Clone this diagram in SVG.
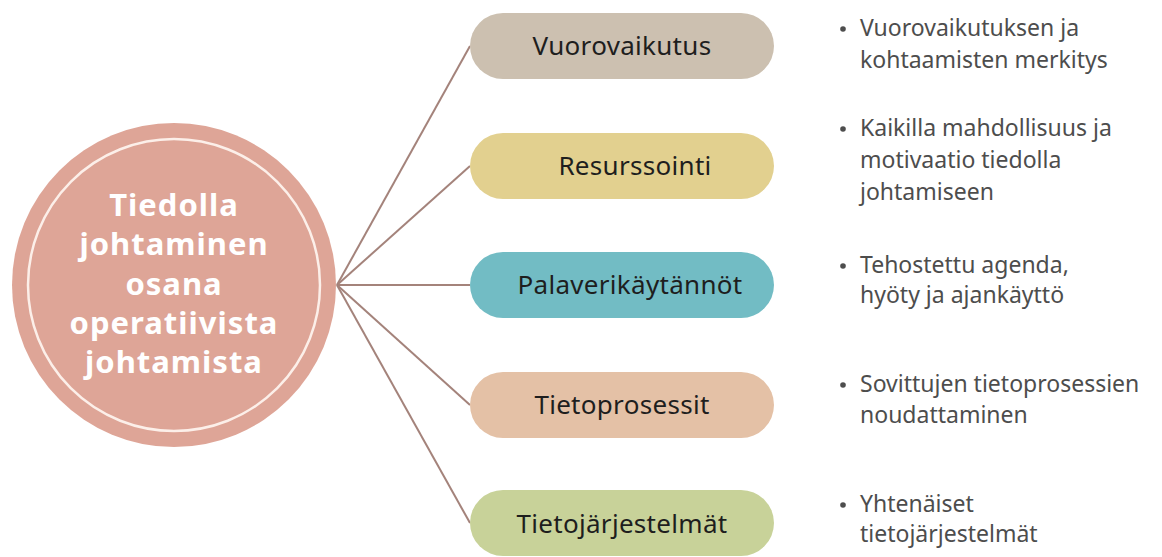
<svg xmlns="http://www.w3.org/2000/svg" width="1162" height="557" viewBox="0 0 1162 557">
  <style>
    .hub-text { font-family: "Noto Sans", "Open Sans", sans-serif; font-weight: 700; font-size: 31px; fill: #ffffff; text-anchor: middle; letter-spacing: 1px; }
    .pill-text { font-family: "Noto Sans", "Open Sans", sans-serif; font-size: 26px; fill: #1e1e1e; text-anchor: middle; letter-spacing: 0.3px; }
    .note { font-family: "Noto Sans", "Open Sans", sans-serif; font-size: 23px; fill: #4d4d4d; }
    .dot { fill: #4d4d4d; }
    .link { stroke: #a4837b; stroke-width: 2; fill: none; }
  </style>

  <rect width="1162" height="557" fill="#ffffff"/>

  <!-- spokes from the hub to each topic -->
  <g id="connectors">
    <line class="link" x1="337" y1="285" x2="470" y2="46"/>
    <line class="link" x1="337" y1="285" x2="470" y2="166"/>
    <line class="link" x1="337" y1="285" x2="470" y2="285"/>
    <line class="link" x1="337" y1="285" x2="470" y2="405"/>
    <line class="link" x1="337" y1="285" x2="470" y2="523"/>
  </g>

  <!-- central hub -->
  <g id="hub">
    <circle cx="174" cy="285" r="162" fill="#dea597"/>
    <circle cx="174" cy="285" r="146" fill="none" stroke="#fcefe9" stroke-width="2.5"/>
    <text class="hub-text" x="174" y="216">Tiedolla</text>
    <text class="hub-text" x="174" y="255">johtaminen</text>
    <text class="hub-text" x="174" y="295">osana</text>
    <text class="hub-text" x="174" y="334">operatiivista</text>
    <text class="hub-text" x="174" y="373">johtamista</text>
  </g>

  <!-- topic pills -->
  <g id="vuorovaikutus">
    <rect x="470" y="13" width="304" height="66" rx="33" fill="#ccc0b0"/>
    <text class="pill-text" x="622" y="55">Vuorovaikutus</text>
  </g>
  <g id="resurssointi">
    <rect x="470" y="133" width="304" height="66" rx="33" fill="#e2d08f"/>
    <text class="pill-text" x="635" y="175">Resurssointi</text>
  </g>
  <g id="palaverikaytannot">
    <rect x="470" y="252" width="304" height="66" rx="33" fill="#72bcc4"/>
    <text class="pill-text" x="630" y="294">Palaverikäytännöt</text>
  </g>
  <g id="tietoprosessit">
    <rect x="470" y="372" width="304" height="66" rx="33" fill="#e4c1a6"/>
    <text class="pill-text" x="622" y="414">Tietoprosessit</text>
  </g>
  <g id="tietojarjestelmat">
    <rect x="470" y="490" width="304" height="66" rx="33" fill="#c8d299"/>
    <text class="pill-text" x="622" y="533">Tietojärjestelmät</text>
  </g>

  <!-- bullet notes -->
  <g id="note-vuorovaikutus">
    <circle class="dot" cx="843" cy="29" r="2.8"/>
    <text class="note" x="860" y="36">Vuorovaikutuksen ja</text>
    <text class="note" x="860" y="68">kohtaamisten merkitys</text>
  </g>
  <g id="note-resurssointi">
    <circle class="dot" cx="843" cy="129" r="2.8"/>
    <text class="note" x="860" y="136">Kaikilla mahdollisuus ja</text>
    <text class="note" x="860" y="168">motivaatio tiedolla</text>
    <text class="note" x="860" y="200">johtamiseen</text>
  </g>
  <g id="note-palaverikaytannot">
    <circle class="dot" cx="843" cy="266" r="2.8"/>
    <text class="note" x="860" y="273">Tehostettu agenda,</text>
    <text class="note" x="860" y="303">hyöty ja ajankäyttö</text>
  </g>
  <g id="note-tietoprosessit">
    <circle class="dot" cx="843" cy="385" r="2.8"/>
    <text class="note" x="860" y="392">Sovittujen tietoprosessien</text>
    <text class="note" x="860" y="423">noudattaminen</text>
  </g>
  <g id="note-tietojarjestelmat">
    <circle class="dot" cx="843" cy="505" r="2.8"/>
    <text class="note" x="860" y="512">Yhtenäiset</text>
    <text class="note" x="860" y="542">tietojärjestelmät</text>
  </g>
</svg>
